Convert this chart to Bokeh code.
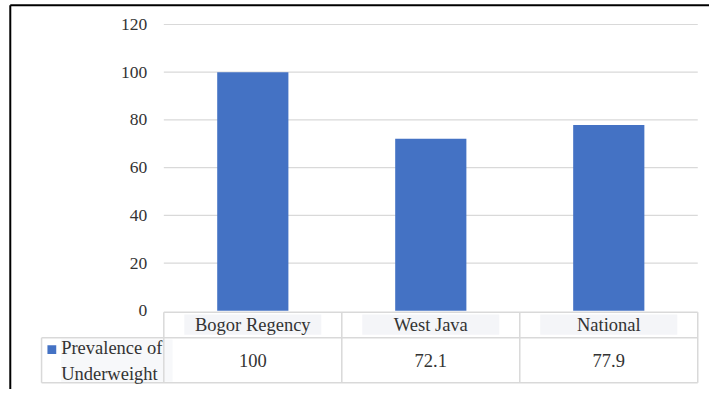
from bokeh.plotting import figure
from bokeh.models import Range1d
from bokeh.core.properties import value
from bokeh.embed import file_html
from bokeh.resources import INLINE

# ---- data ----
categories = ["Bogor Regency", "West Java", "National"]
prevalence = [100, 72.1, 77.9]
value_labels = ["100", "72.1", "77.9"]
series_name = "Prevalence of\nUnderweight"
y_ticks = [0, 20, 40, 60, 80, 100, 120]
y_tick_labels = ["0", "20", "40", "60", "80", "100", "120"]

# ---- layout helpers (reference pixel -> data) ----
REF_W, REF_H = 725, 405
CAT_PX = 182.0            # pixels per category
X0_PX = 258.0             # x of first category centre
PPU = 298.0 / 120.0       # pixels per value unit
Y0_PX = 323.0             # y of value 0


def xd(px):
    return (px - X0_PX) / CAT_PX


def yd(py):
    return (Y0_PX - py) / PPU


W, H = 709, 389
p = figure(width=W, height=H, output_backend="svg", toolbar_location=None,
           x_range=Range1d(xd(0), xd(REF_W)),
           y_range=Range1d(yd(REF_H), yd(0)),
           min_border=0)
p.axis.visible = False
p.grid.visible = False
p.outline_line_color = None
p.background_fill_color = "white"

FONT = value("Liberation Serif")
TXT = "#333333"
GRID = "#d9d9d9"
BAR = "#4472C4"
FS = "18.5px"

idx = list(range(len(categories)))
left_edge = -0.5
right_edge = len(categories) - 0.5

# gridlines
gt = [t for t in y_ticks if t > 0]
p.segment(x0=[left_edge] * len(gt), x1=[right_edge] * len(gt), y0=gt, y1=gt,
          line_color=GRID, line_width=1.2)

# bars
p.vbar(x=idx, top=prevalence, bottom=0, width=0.4, fill_color=BAR, line_color=None)

# tick labels
p.text(x=[xd(150)] * len(y_ticks), y=y_ticks, text=y_tick_labels,
       text_font=FONT, text_font_size="17.5px", text_color=TXT,
       text_align="right", text_baseline="middle")

# ---- data table ----
row1_top = yd(324.5)
row2_top = yd(351)
row_bot = yd(398)
key_left = xd(42)

# header label backgrounds
p.quad(left=[i - 0.385 for i in idx], right=[i + 0.385 for i in idx],
       top=[yd(327)] * 3, bottom=[yd(348)] * 3,
       fill_color="#f4f5f8", line_color=None)
# legend label background
p.quad(left=[xd(62)], right=[xd(176)], top=[yd(353)], bottom=[yd(397)],
       fill_color="#f7f8fa", line_color=None)

# horizontal lines
p.segment(x0=[left_edge, key_left, key_left], x1=[right_edge] * 3,
          y0=[row1_top, row2_top, row_bot], y1=[row1_top, row2_top, row_bot],
          line_color=GRID, line_width=1.5)
# vertical lines
vx = [left_edge + k for k in range(len(categories) + 1)]
p.segment(x0=vx, x1=vx, y0=[row1_top] * len(vx), y1=[row_bot] * len(vx),
          line_color=GRID, line_width=1.5)
p.segment(x0=[key_left], x1=[key_left], y0=[row2_top], y1=[row_bot],
          line_color=GRID, line_width=1.5)

# header text
p.text(x=idx, y=[yd(338)] * 3, text=categories, text_font=FONT,
       text_font_size=FS, text_color=TXT, text_align="center",
       text_baseline="middle")
# values
p.text(x=idx, y=[yd(375)] * 3, text=value_labels, text_font=FONT,
       text_font_size=FS, text_color=TXT, text_align="center",
       text_baseline="middle")

# legend key + series name
p.quad(left=[xd(48)], right=[xd(57)], top=[yd(359)], bottom=[yd(368)],
       fill_color=BAR, line_color=None)
p.text(x=[xd(62)], y=[yd(375.5)], text=[series_name], text_font=FONT,
       text_font_size=FS, text_color=TXT, text_align="left",
       text_baseline="middle", text_line_height=1.3)

# outer black frame (left and top edges)
p.segment(x0=[xd(10), xd(10)], x1=[xd(10), xd(725)],
          y0=[yd(5), yd(5)], y1=[yd(405), yd(5)],
          line_color="black", line_width=2)

open("out.html", "w").write(file_html(p, INLINE))
